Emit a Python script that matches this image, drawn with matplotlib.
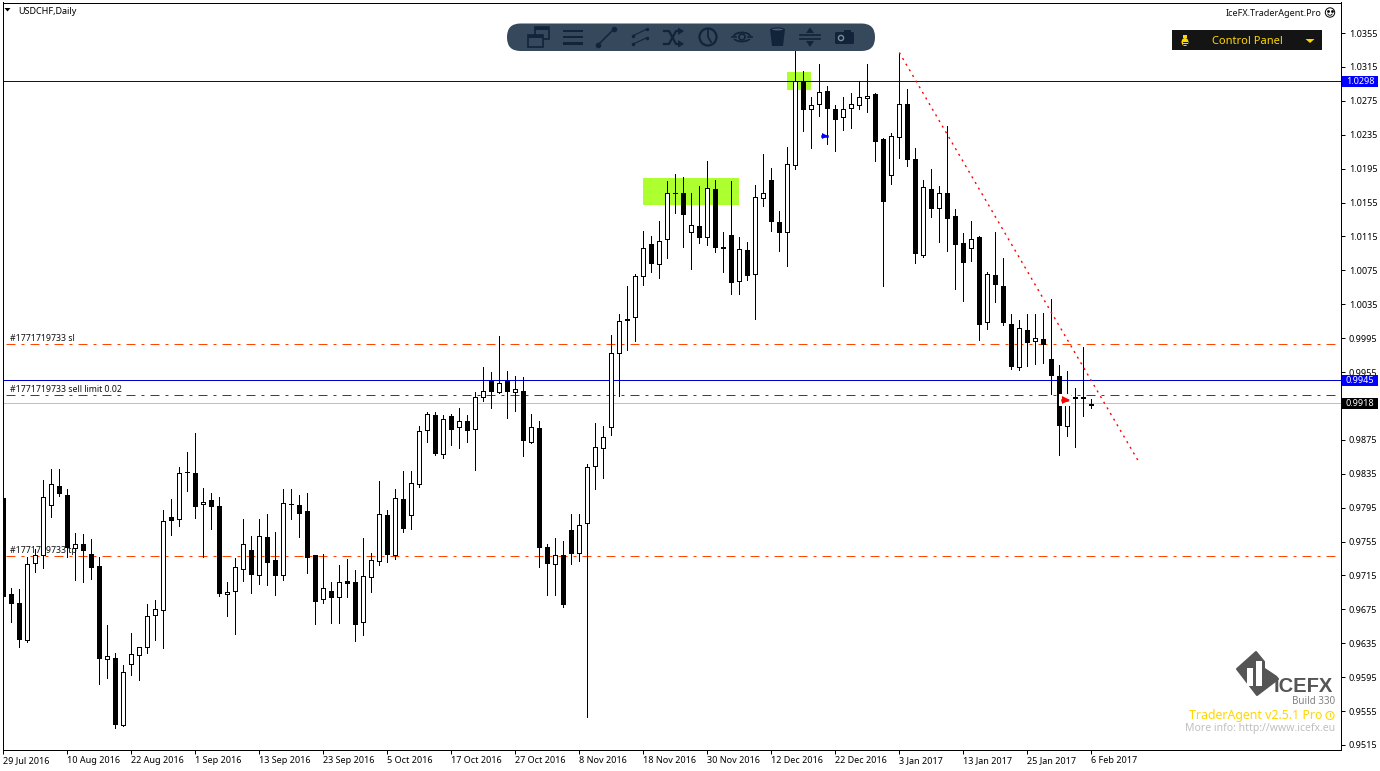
#!/usr/bin/env python3

import matplotlib
matplotlib.use("Agg")
import matplotlib.pyplot as plt
from matplotlib.patches import Rectangle, Circle, Polygon, FancyBboxPatch, Ellipse
from matplotlib.transforms import blended_transform_factory

plt.rcParams["font.family"] = ["Noto Sans", "DejaVu Sans"]

# daily USDCHF bars
OPEN = [
    .9806, .9693, .9683, .9639, .9730, .9739, .9798, .9821, .9810, .9747,
    .9752, .9740, .9726, .9616, .9618, .9539, .9611, .9621, .9631, .9668,
    .9674, .9784, .9781, .9837, .9836, .9799, .9804, .9797, .9693, .9697,
    .9723, .9745, .9716, .9760, .9733, .9715, .9799, .9798, .9791, .9739,
    .9687, .9697, .9689, .9708, .9707, .9660, .9713, .9732, .9786, .9739,
    .9805, .9786, .9823, .9886, .9904, .9858, .9903, .9890, .9897, .9888,
    .9926, .9944, .9932, .9944, .9932, .9933, .9873, .9889, .9748, .9728,
    .9739, .9768, .9742, .9777, .9844, .9865, .9890, .9977, 1.0016, 1.0020,
    1.0068, 1.0106, 1.0083, 1.0112, 1.0166, 1.0166, 1.0120, 1.0127, 1.0114, 1.0171,
    1.0102, 1.0117, 1.0062, 1.0099, 1.0071, 1.0160, 1.0182, 1.0132, 1.0120, 1.0199,
    1.0298, 1.0265, 1.0271, 1.0287, 1.0265, 1.0256, 1.0266, 1.0270, 1.0278, 1.0283,
    1.0230, 1.0187, 1.0232, 1.0271, 1.0206, 1.0093, 1.0171, 1.0148, 1.0166, 1.0139,
    1.0107, 1.0101, 1.0114, 1.0014, 1.0070, 1.0057, 1.0012, .9961, 1.0005, .9992,
    .9994, .9970, .9950, .9891, .9925, .9925, .9917,
]
HIGH = [
    .9809, .9700, .9699, .9737, .9746, .9828, .9840, .9841, .9817, .9765,
    .9764, .9758, .9737, .9656, .9624, .9609, .9647, .9631, .9681, .9686,
    .9792, .9805, .9843, .9861, .9883, .9818, .9812, .9808, .9707, .9735,
    .9782, .9761, .9782, .9787, .9766, .9817, .9817, .9810, .9812, .9739,
    .9740, .9707, .9727, .9734, .9721, .9759, .9742, .9826, .9792, .9817,
    .9838, .9838, .9891, .9908, .9908, .9904, .9906, .9912, .9904, .9931,
    .9961, .9955, .9998, .9956, .9950, .9949, .9905, .9897, .9752, .9759,
    .9756, .9787, .9787, .9846, .9895, .9891, .9999, 1.0023, 1.0056, 1.0071,
    1.0121, 1.0115, 1.0133, 1.0180, 1.0189, 1.0185, 1.0166, 1.0174, 1.0204, 1.0181,
    1.0120, 1.0180, 1.0114, 1.0108, 1.0176, 1.0212, 1.0196, 1.0145, 1.0221, 1.0351,
    1.0310, 1.0280, 1.0318, 1.0293, 1.0270, 1.0279, 1.0284, 1.0298, 1.0319, 1.0284,
    1.0231, 1.0237, 1.0332, 1.0289, 1.0219, 1.0182, 1.0194, 1.0175, 1.0245, 1.0147,
    1.0119, 1.0133, 1.0116, 1.0073, 1.0120, 1.0090, 1.0023, 1.0016, 1.0023, 1.0023,
    1.0025, 1.0041, .9963, .9956, .9936, .9984, .9923,
]
LOW = [
    .9633, .9660, .9631, .9637, .9719, .9724, .9784, .9809, .9737, .9709,
    .9707, .9711, .9587, .9594, .9535, .9537, .9597, .9592, .9624, .9639,
    .9629, .9763, .9773, .9815, .9783, .9737, .9770, .9691, .9667, .9646,
    .9708, .9694, .9705, .9704, .9692, .9709, .9781, .9760, .9718, .9658,
    .9682, .9659, .9659, .9689, .9638, .9645, .9696, .9727, .9731, .9734,
    .9766, .9770, .9819, .9872, .9857, .9853, .9869, .9865, .9873, .9839,
    .9921, .9913, .9930, .9901, .9909, .9856, .9871, .9725, .9692, .9692,
    .9678, .9728, .9732, .9548, .9817, .9830, .9881, .9927, .9981, .9992,
    1.0058, 1.0073, 1.0066, 1.0090, 1.0143, 1.0103, 1.0077, 1.0107, 1.0105, 1.0097,
    1.0073, 1.0047, 1.0047, 1.0064, 1.0018, 1.0151, 1.0121, 1.0098, 1.0080, 1.0194,
    1.0239, 1.0219, 1.0257, 1.0224, 1.0216, 1.0241, 1.0243, 1.0265, 1.0262, 1.0204,
    1.0056, 1.0177, 1.0208, 1.0198, 1.0084, 1.0091, 1.0138, 1.0108, 1.0098, 1.0053,
    1.0039, 1.0086, .9993, 1.0006, 1.0038, 1.0011, .9958, .9957, .9962, .9965,
    .9966, .9929, .9857, .9880, .9866, .9903, .9912,
]
CLOSE = [
    .9691, .9682, .9640, .9729, .9739, .9808, .9823, .9812, .9748, .9752,
    .9745, .9725, .9617, .9620, .9540, .9601, .9622, .9630, .9667, .9675,
    .9779, .9780, .9836, .9837, .9797, .9802, .9797, .9694, .9696, .9725,
    .9752, .9717, .9762, .9731, .9716, .9801, .9799, .9789, .9737, .9685,
    .9700, .9690, .9707, .9706, .9658, .9714, .9733, .9787, .9740, .9806,
    .9771, .9824, .9885, .9905, .9859, .9900, .9888, .9897, .9887, .9925,
    .9933, .9933, .9942, .9933, .9935, .9875, .9890, .9749, .9730, .9739,
    .9681, .9741, .9775, .9843, .9866, .9878, .9978, 1.0015, 1.0018, 1.0068,
    1.0101, 1.0084, 1.0110, 1.0166, 1.0166, 1.0141, 1.0129, 1.0114, 1.0172, 1.0102,
    1.0101, 1.0061, 1.0100, 1.0070, 1.0161, 1.0166, 1.0133, 1.0120, 1.0200, 1.0298,
    1.0265, 1.0270, 1.0285, 1.0266, 1.0254, 1.0265, 1.0271, 1.0279, 1.0281, 1.0228,
    1.0157, 1.0233, 1.0271, 1.0206, 1.0095, 1.0173, 1.0149, 1.0166, 1.0137, 1.0106,
    1.0085, 1.0112, 1.0012, 1.0071, 1.0059, 1.0014, .9962, 1.0007, .9990, .9995,
    .9988, .9951, .9892, .9926, .9924, .9924, .9916,
]

DATE_TICKS = [0, 8, 16, 24, 32, 40, 48, 56, 64, 72, 80, 88, 96, 104, 112, 120, 128, 136]
DATE_LABELS = [
    "29 Jul 2016", "10 Aug 2016", "22 Aug 2016", "1 Sep 2016", "13 Sep 2016", "23 Sep 2016",
    "5 Oct 2016", "17 Oct 2016", "27 Oct 2016", "8 Nov 2016", "18 Nov 2016", "30 Nov 2016",
    "12 Dec 2016", "22 Dec 2016", "3 Jan 2017", "13 Jan 2017", "25 Jan 2017", "6 Feb 2017",
]
PRICE_TICKS = [
    1.0355, 1.0315, 1.0275, 1.0235, 1.0195, 1.0155, 1.0115, 1.0075, 1.0035, 0.9995, 0.9955,
    0.9915, 0.9875, 0.9835, 0.9795, 0.9755, 0.9715, 0.9675, 0.9635, 0.9595, 0.9555, 0.9515,
]
# 0.9915 sits under the bid flag, so it carries no label
PRICE_LABELS = [
    "1.0355", "1.0315", "1.0275", "1.0235", "1.0195", "1.0155", "1.0115", "1.0075", "1.0035", "0.9995", "0.9955",
    "", "0.9875", "0.9835", "0.9795", "0.9755", "0.9715", "0.9675", "0.9635", "0.9595", "0.9555", "0.9515",
]

# horizontal levels
LEVEL_RESIST = 1.0298
LEVEL_ENTRY = 0.9945
LEVEL_BID = 0.9918
ORDER_SL = 0.9988
ORDER_LIMIT = 0.99275
ORDER_TP = 0.9738

# supply zones: first bar, last bar, bottom, top
ZONE_LEFT = [80, 98]
ZONE_RIGHT = [92, 101]
ZONE_BOTTOM = [1.0152, 1.0288]
ZONE_TOP = [1.0184, 1.0309]

TREND_X = [112, 142]
TREND_Y = [1.0332, 0.9848]

fig = plt.figure(figsize=(13.8, 7.71), dpi=100, facecolor="white")
ax = fig.add_axes([2.5 / 1380, 1 - 750 / 771, 1338 / 1380, 747.5 / 771])
ax.set_xlim(-0.1, 167.15)
ax.set_ylim(0.9509, 1.0391)

for spine in ["top", "left", "right", "bottom"]:
    ax.spines[spine].set_linewidth(0.72)

# zones go behind everything else
for left, right, bottom, top in zip(ZONE_LEFT, ZONE_RIGHT, ZONE_BOTTOM, ZONE_TOP):
    ax.add_patch(Rectangle((left, bottom), right - left, top - bottom, color="#adff2f", lw=0, zorder=1))

# price levels
DASHDOT = (0, (9, 6, 3, 6))
ax.axhline(LEVEL_RESIST, color="#0000cc", lw=0.72, zorder=2)
ax.axhline(LEVEL_ENTRY, color="#0000cc", lw=0.72, zorder=2)
ax.axhline(LEVEL_BID, color="#c0c0c0", lw=0.72, zorder=2)
ax.plot([0.3, 167.15], [ORDER_SL, ORDER_SL], color="#ff4500", lw=0.72, ls=DASHDOT, zorder=2)
ax.plot([0.3, 167.15], [ORDER_TP, ORDER_TP], color="#ff4500", lw=0.72, ls=DASHDOT, zorder=2)
ax.plot([0.3, 167.15], [ORDER_LIMIT, ORDER_LIMIT], color="#007000", lw=0.72, ls=DASHDOT, zorder=2)

ax.text(0.85, ORDER_SL + 0.00015, "#1771719733 sl", fontsize=6.3, color="#101010", va="bottom", zorder=2)
ax.text(0.85, ORDER_LIMIT + 0.00015, "#1771719733 sell limit 0.02", fontsize=6.3, color="#101010", va="bottom", zorder=2)
ax.text(0.85, ORDER_TP + 0.00015, "#1771719733 tp", fontsize=6.3, color="#101010", va="bottom", zorder=2)

# candles
bars = list(range(len(OPEN)))
ax.vlines(bars, LOW, HIGH, color="black", lw=0.72, zorder=3, antialiased=False)
bottoms = [min(o, c) for o, c in zip(OPEN, CLOSE)]
heights = [abs(o - c) for o, c in zip(OPEN, CLOSE)]
colors = ["white" if c >= o else "black" for o, c in zip(OPEN, CLOSE)]
ax.bar(bars, heights, bottom=bottoms, width=0.5, color=colors, edgecolor="black", linewidth=0.72,
       zorder=4, antialiased=False)

# trend line and trade arrows
ax.plot(TREND_X, TREND_Y, color="red", lw=1.0, ls=(0, (1.5, 3.2)), zorder=5)
ax.plot([102.75], [1.0234], marker=">", ms=4.5, color="#0000ff", mew=0, zorder=6)
ax.plot([102.35, 102.95], [1.0234, 1.0234], color="#0000ff", lw=1.8, zorder=6)
ax.plot([132.7], [0.99216], marker="s", ms=8, color="white", mew=0, zorder=5.5)
ax.plot([132.85], [0.99216], marker=">", ms=5.5, color="red", mew=0, zorder=6)
ax.plot([132.3, 132.95], [0.99216, 0.99216], color="red", lw=1.8, zorder=6)

# axes
ax.yaxis.tick_right()
ax.set_yticks(PRICE_TICKS)
ax.set_yticklabels(PRICE_LABELS)
ax.set_xticks(DATE_TICKS)
ax.set_xticklabels(DATE_LABELS, ha="left")
ax.tick_params(axis="both", length=3, width=0.72, labelsize=6.5, color="black")
ax.tick_params(axis="x", pad=1.3)
ax.tick_params(axis="y", pad=3)

# price flags over the right scale
flag_trans = blended_transform_factory(ax.transAxes, ax.transData)
for price, colour in [(LEVEL_RESIST, "#0000ff"), (LEVEL_ENTRY, "#0000ff"), (LEVEL_BID, "black")]:
    ax.add_patch(Rectangle((1.0008, price - 0.00066), 0.0275, 0.00132, transform=flag_trans, color=colour,
                           lw=0, clip_on=False, zorder=10))
    ax.text(1.0145, price, f"{price:.4f}", transform=flag_trans, color="white", fontsize=6.5,
            ha="center", va="center", zorder=11, clip_on=False)

# overlay in screen pixels for the panels painted on the chart
ui = fig.add_axes([0, 0, 1, 1], zorder=20)
ui.set_xlim(0, 1380)
ui.set_ylim(771, 0)
ui.axis("off")

ui.text(18, 11.5, "USDCHF,Daily", fontsize=6.5, va="center", ha="left")
ui.add_patch(Polygon([[4.5, 8], [10.5, 8], [7.5, 11.5]], color="black", lw=0))

# toolbar
BAR = "#36485c"
ICON = "#13233a"
ui.add_patch(FancyBboxPatch((507, 23.5), 368, 27.5, boxstyle="round,pad=0,rounding_size=13.5", color=BAR, lw=0))
# windows
ui.add_patch(Rectangle((535, 27), 14, 12, fc="none", ec=ICON, lw=1.2))
ui.add_patch(Rectangle((535, 27), 14, 3, fc=ICON, ec=ICON, lw=0))
ui.add_patch(Rectangle((528, 35), 15, 12, fc=BAR, ec=ICON, lw=1.2))
ui.add_patch(Rectangle((528, 35), 15, 3, fc=ICON, ec=ICON, lw=0))
# menu bars
for y in [31, 37, 43.5]:
    ui.add_patch(Rectangle((563, y - 1.3), 20, 2.6, color=ICON, lw=0))
# line tool
ui.plot([598, 614], [45, 29], color=ICON, lw=1.1, marker="o", ms=3)
# channel tool
ui.plot([633, 647], [35.7, 29], color=ICON, lw=0.8, marker="o", ms=1.5)
ui.plot([633, 647], [44, 37.7], color=ICON, lw=0.8, marker="o", ms=1.5)
# shuffle
ui.plot([664, 669, 676, 681], [31, 31, 44, 44], color=ICON, lw=1.6)
ui.plot([664, 669, 676, 681], [44, 44, 31, 31], color=ICON, lw=1.6)
ui.add_patch(Polygon([[678, 27.5], [684, 31], [678, 35]], color=ICON, lw=0))
ui.add_patch(Polygon([[678, 40], [684, 44], [678, 47.5]], color=ICON, lw=0))
# clock
ui.add_patch(Circle((708, 37), 8.5, fc="none", ec=ICON, lw=1.6))
ui.plot([708, 708, 711], [30, 37, 42], color=ICON, lw=1.3)
# eye
ui.add_patch(Ellipse((742, 37), 17, 9, fc="none", ec=ICON, lw=1.3))
ui.add_patch(Rectangle((732, 35.5), 20, 3, color=BAR, lw=0))
ui.add_patch(Circle((742, 37), 3, fc=BAR, ec=ICON, lw=1.2))
ui.plot([732, 736], [37, 37], color=ICON, lw=1.2)
ui.plot([748, 752], [37, 37], color=ICON, lw=1.2)
# bin
ui.add_patch(Polygon([[770, 29], [785, 29], [783, 46], [772, 46]], color=ICON, lw=0))
ui.add_patch(Ellipse((777.5, 29.5), 13, 3, fc="#4a5d72", ec=ICON, lw=0.8))
# resize
ui.plot([800, 820], [35, 35], color=ICON, lw=1.2)
ui.plot([800, 820], [39, 39], color=ICON, lw=1.2)
ui.add_patch(Polygon([[806, 33], [810, 27.5], [814, 33]], color=ICON, lw=0))
ui.add_patch(Polygon([[806, 41], [810, 47], [814, 41]], color=ICON, lw=0))
# camera
ui.add_patch(FancyBboxPatch((835, 32), 19, 12, boxstyle="round,pad=0,rounding_size=1.5", color=ICON, lw=0))
ui.add_patch(Rectangle((844, 30), 7, 3, color=ICON, lw=0))
ui.add_patch(Circle((841, 38), 2.6, fc=ICON, ec="#7a8a9a", lw=1))

# control panel button
GOLD = "#ffd700"
ui.add_patch(Rectangle((1172, 30), 150, 20, color="#141414", lw=0))
ui.text(1247, 41, "Control Panel", color=GOLD, fontsize=8, ha="center", va="center")
ui.add_patch(Polygon([[1305.5, 39], [1314.5, 39], [1310, 43]], color=GOLD, lw=0))
ui.add_patch(Ellipse((1185, 42), 7, 8, color=GOLD, lw=0))
ui.add_patch(Rectangle((1183, 35), 4, 3, color=GOLD, lw=0))
ui.plot([1183, 1187], [42, 42], color="#141414", lw=0.7)
ui.plot([1183, 1187], [44, 44], color="#141414", lw=0.7)

# agent name and face
ui.text(1322, 13, "IceFX.TraderAgent.Pro", fontsize=6.5, color="#101010", ha="right", va="center")
ui.add_patch(Circle((1330, 12.5), 4.7, fc="none", ec="black", lw=0.7))
ui.plot([1328.3, 1331.7], [11, 11], ls="none", marker="s", ms=0.9, color="black")
ui.plot([1327.8, 1329, 1331, 1332.2], [14, 15.2, 15.2, 14], color="black", lw=0.6)

# logo block
LOGO = "#555555"
ui.add_patch(Polygon([[1256, 652], [1237, 669], [1257, 695], [1278, 679]], fc=LOGO, ec=LOGO, lw=1.5, joinstyle="round"))
ui.add_patch(Rectangle((1247, 668), 6, 18, color="white", lw=0))
ui.add_patch(Rectangle((1256, 661), 6, 25, color="white", lw=0))
ui.add_patch(Polygon([[1265, 661], [1270, 661], [1277, 676], [1265, 668]], color="white", lw=0))
ui.text(1333, 687, "ICEFX", fontsize=14.5, fontweight="bold", family="Liberation Sans", color=LOGO, ha="right", va="center")
ui.text(1335, 701, "Build 330", fontsize=7.1, color="#808080", ha="right", va="center")
ui.text(1322, 716, "TraderAgent v2.5.1 Pro", fontsize=8.9, color=GOLD, ha="right", va="center")
ui.add_patch(Circle((1330, 715.5), 4, fc="none", ec=GOLD, lw=0.8))
ui.plot([1330, 1330], [713, 716], color=GOLD, lw=0.7)
ui.text(1335, 729, "More info: http://www.icefx.eu", fontsize=7.5, color="#c0c0c0", ha="right", va="center")

fig.savefig("out.png", dpi=100)
